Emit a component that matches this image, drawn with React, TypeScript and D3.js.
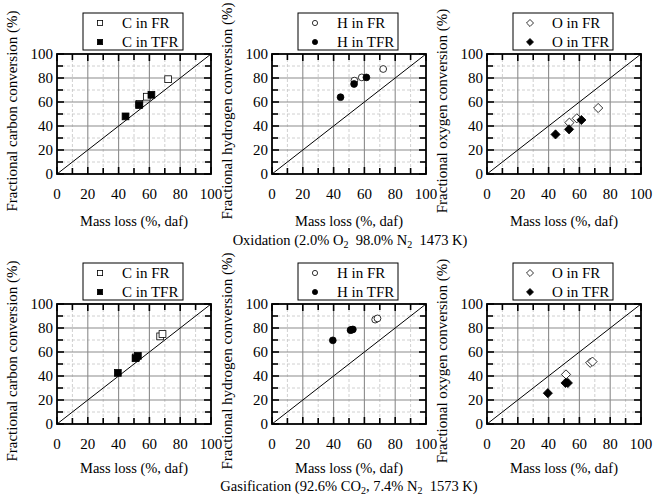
import React from "react";
import * as d3 from "d3";

const ticks = [0, 20, 40, 60, 80, 100];
const minorTicks = [10, 30, 50, 70, 90];
const allTicks = d3.range(0, 101, 10);

const oxFRx = [53.5, 58.3, 72.2];
const oxTFRx = [44.5, 53.3, 61.3];
const oxC_FR = [58.5, 64.4, 79];
const oxC_TFR = [48, 57.5, 66];
const oxH_FR = [77.8, 80.5, 87.5];
const oxH_TFR = [64, 75, 80.5];
const oxO_FR = [42.8, 46.4, 55];
const oxO_TFR = [33, 37.2, 45];

const gaFRx = [51.3, 67, 68.5];
const gaTFRx = [39.5, 51, 52.5];
const gaC_FR = [55.5, 73, 75];
const gaC_TFR = [42.6, 54.8, 56.8];
const gaH_FR = [78.5, 87, 88];
const gaH_TFR = [69.7, 78.2, 78.8];
const gaO_FR = [41.3, 51, 52];
const gaO_TFR = [25.7, 34.2, 34.2];

const elements = ["C", "H", "O"];
const yLabels = [
  "Fractional carbon conversion (%)",
  "Fractional hydrogen conversion (%)",
  "Fractional oxygen conversion (%)",
];
const xLabel = "Mass loss (%, daf)";
const shapes = ["square", "circle", "diamond"];

const FONT = "'Liberation Serif', 'Times New Roman', serif";

function Marker({ shape, x, y, filled, s }: any) {
  const fill = filled ? "#000" : "#fff";
  if (shape === "square")
    return <rect x={x - s} y={y - s} width={2 * s} height={2 * s} fill={fill} stroke="#000" strokeWidth={0.8} />;
  if (shape === "circle") return <circle cx={x} cy={y} r={s} fill={fill} stroke="#000" strokeWidth={0.8} />;
  const d = s * 1.35;
  return <path d={`M${x},${y - d}L${x + d},${y}L${x},${y + d}L${x - d},${y}Z`} fill={fill} stroke="#000" strokeWidth={0.8} />;
}

function Panel({ left, top, el, idx, frx, tfrx, fr, tfr, xlOff }: any) {
  const w = 154;
  const h = 120;
  const x = d3.scaleLinear().domain([0, 100]).range([left, left + w]);
  const y = d3.scaleLinear().domain([0, 100]).range([top + h, top]);
  const shape = shapes[idx];
  const lx = left + 26;
  const ly = top - 41;
  return (
    <g fontFamily={FONT} fontSize={15}>
      {minorTicks.map((t) => (
        <g key={"m" + t}>
          <line x1={x(t)} x2={x(t)} y1={top} y2={top + h} stroke="#c4c4c4" strokeDasharray="3,2" strokeWidth={0.8} />
          <line x1={left} x2={left + w} y1={y(t)} y2={y(t)} stroke="#c4c4c4" strokeDasharray="3,2" strokeWidth={0.8} />
        </g>
      ))}
      {ticks.slice(1, 5).map((t) => (
        <g key={"g" + t}>
          <line x1={x(t)} x2={x(t)} y1={top} y2={top + h} stroke="#8c8c8c" strokeWidth={1.1} />
          <line x1={left} x2={left + w} y1={y(t)} y2={y(t)} stroke="#8c8c8c" strokeWidth={1.1} />
        </g>
      ))}
      {allTicks.map((t) => {
        const tl = t % 20 === 0 ? 7 : 6;
        return (
          <g key={"t" + t} stroke="#000" strokeWidth={1.6}>
            <line x1={x(t)} x2={x(t)} y1={top + h} y2={top + h - tl} />
            <line x1={x(t)} x2={x(t)} y1={top} y2={top + tl} />
            <line x1={left} x2={left + tl} y1={y(t)} y2={y(t)} />
            <line x1={left + w} x2={left + w - tl} y1={y(t)} y2={y(t)} />
          </g>
        );
      })}
      <line x1={x(0)} y1={y(0)} x2={x(100)} y2={y(100)} stroke="#000" strokeWidth={1} />
      <rect x={left} y={top} width={w} height={h} fill="none" stroke="#000" strokeWidth={1.8} />
      {fr.map((v: number, i: number) => (
        <Marker key={"f" + i} shape={shape} x={x(frx[i])} y={y(v)} filled={false} s={3.4} />
      ))}
      {tfr.map((v: number, i: number) => (
        <Marker key={"t" + i} shape={shape} x={x(tfrx[i])} y={y(v)} filled={true} s={3.4} />
      ))}
      {ticks.map((t) => (
        <text key={"yl" + t} x={left - 4} y={y(t) + 5} textAnchor="end">{t}</text>
      ))}
      {ticks.map((t) => (
        <text key={"xl" + t} x={x(t)} y={top + h + 25} textAnchor="middle">{t}</text>
      ))}
      <text x={left + w / 2} y={top + h + xlOff} textAnchor="middle" fontSize={14.5}>{xLabel}</text>
      <text transform={`translate(${left - 40},${top + h / 2 - 3}) rotate(-90)`} textAnchor="middle">{yLabels[idx]}</text>
      <rect x={lx} y={ly} width={100} height={37} fill="#fff" stroke="#000" strokeWidth={1} />
      <Marker shape={shape} x={lx + 17} y={ly + 10} filled={false} s={2.6} />
      <Marker shape={shape} x={lx + 17} y={ly + 29} filled={true} s={2.6} />
      <text x={lx + 39} y={ly + 15}>{el} in FR</text>
      <text x={lx + 39} y={ly + 34}>{el} in TFR</text>
    </g>
  );
}

export default function App() {
  const lefts = [57, 272, 487];
  const ox = [
    [oxC_FR, oxC_TFR],
    [oxH_FR, oxH_TFR],
    [oxO_FR, oxO_TFR],
  ];
  const ga = [
    [gaC_FR, gaC_TFR],
    [gaH_FR, gaH_TFR],
    [gaO_FR, gaO_TFR],
  ];
  return (
    <svg width={653} height={497} style={{ position: "absolute", left: 0, top: 0, background: "#fff" }}>
      <rect width={653} height={497} fill="#fff" />
      {elements.map((el, i) => (
        <Panel key={"o" + i} left={lefts[i]} top={54} el={el} idx={i} frx={oxFRx} tfrx={oxTFRx} fr={ox[i][0]} tfr={ox[i][1]} xlOff={52} />
      ))}
      {elements.map((el, i) => (
        <Panel key={"g" + i} left={lefts[i]} top={304} el={el} idx={i} frx={gaFRx} tfrx={gaTFRx} fr={ga[i][0]} tfr={ga[i][1]} xlOff={49} />
      ))}
      <text x={350} y={245} textAnchor="middle" fontFamily={FONT} fontSize={14.5}>
        Oxidation (2.0% O<tspan fontSize={10} dy={3}>2</tspan>
        <tspan dy={-3}>{"\u00a0 98.0% N"}</tspan>
        <tspan fontSize={10} dy={3}>2</tspan>
        <tspan dy={-3}>{"\u00a0 1473 K)"}</tspan>
      </text>
      <text x={349} y={491} textAnchor="middle" fontFamily={FONT} fontSize={14.5}>
        Gasification (92.6% CO<tspan fontSize={10} dy={3}>2</tspan>
        <tspan dy={-3}>{", 7.4% N"}</tspan>
        <tspan fontSize={10} dy={3}>2</tspan>
        <tspan dy={-3}>{"\u00a0 1573 K)"}</tspan>
      </text>
    </svg>
  );
}
